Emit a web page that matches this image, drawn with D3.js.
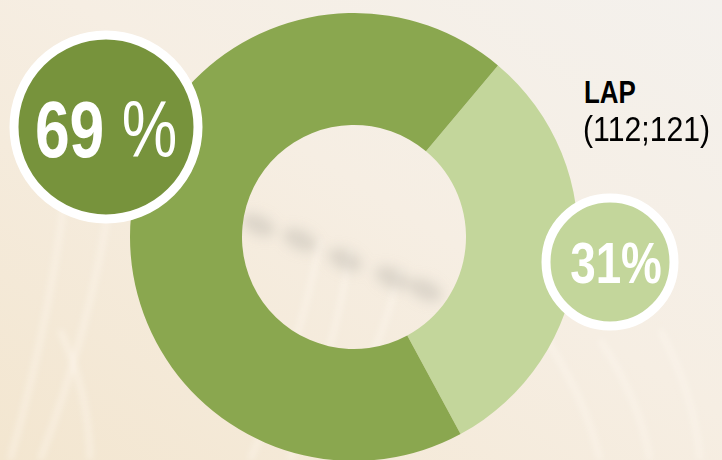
<!DOCTYPE html>
<html>
<head>
<meta charset="utf-8">
<script src="https://cdn.jsdelivr.net/npm/d3@7"></script>
<style>
  html, body { margin: 0; padding: 0; background: #f6efe5; }
  #chart { width: 722px; height: 460px; overflow: hidden; }
  text { font-family: "Liberation Sans", Arial, sans-serif; }
</style>
</head>
<body>
<div id="chart"></div>
<script>
// chart data
const categories = ["LAP", "Other"];
const shares = [31, 69];            // percent
const shareLabels = ["31%", "69 %"];
const labelTitle = "LAP";
const labelSub = "(112;121)";

const width = 722, height = 460;
const cx = 354, cy = 237;
const outerR = 224, innerR = 112;

const colors = d3.scaleOrdinal()
    .domain(categories)
    .range(["#c3d69b", "#8aa74f"]);

const svg = d3.select("#chart")
    .append("svg")
    .attr("width", width)
    .attr("height", height);

// faded photo-like background
const defs = svg.append("defs");
const bg = defs.append("linearGradient")
    .attr("id", "bg")
    .attr("x1", "1").attr("y1", "0")
    .attr("x2", "0").attr("y2", "1");
bg.append("stop").attr("offset", "0%").attr("stop-color", "#f4f1ed");
bg.append("stop").attr("offset", "45%").attr("stop-color", "#f6eee3");
bg.append("stop").attr("offset", "100%").attr("stop-color", "#f3e6d0");
defs.append("filter").attr("id", "blur")
    .append("feGaussianBlur").attr("stdDeviation", 3);
defs.append("filter").attr("id", "blur2")
    .append("feGaussianBlur").attr("stdDeviation", 6);

svg.append("rect")
    .attr("width", width)
    .attr("height", height)
    .attr("fill", "url(#bg)");

// a few soft stalks in the background
const stalks = [[10, 460, 70, 150], [40, 460, 110, 200], [90, 460, 60, 330],
                [250, 460, 320, 240], [290, 460, 350, 250], [330, 440, 400, 270],
                [600, 460, 540, 330], [650, 460, 600, 340], [700, 460, 660, 330]];
svg.append("g")
    .attr("filter", "url(#blur)")
    .selectAll("path")
    .data(stalks)
    .enter()
    .append("path")
    .attr("d", d => `M${d[0]},${d[1]} Q${(d[0] + d[2]) / 2 + 15},${(d[1] + d[3]) / 2} ${d[2]},${d[3]}`)
    .attr("fill", "none")
    .attr("stroke", "#fffaf2")
    .attr("stroke-width", 5)
    .attr("opacity", 0.5);

svg.append("g")
    .attr("filter", "url(#blur2)")
    .selectAll("ellipse")
    .data([[258, 225], [300, 240], [345, 260], [392, 278], [425, 290]])
    .enter()
    .append("ellipse")
    .attr("cx", d => d[0])
    .attr("cy", d => d[1])
    .attr("rx", 18)
    .attr("ry", 10)
    .attr("transform", d => `rotate(25,${d[0]},${d[1]})`)
    .attr("fill", "#cdc6bc")
    .attr("opacity", 0.6);

// donut
const startA = 40 * Math.PI / 180;
const pie = d3.pie()
    .sort(null)
    .startAngle(startA)
    .endAngle(startA + 2 * Math.PI);

const arc = d3.arc()
    .innerRadius(innerR)
    .outerRadius(outerR);

const g = svg.append("g")
    .attr("transform", `translate(${cx},${cy})`);

g.selectAll("path")
    .data(pie(shares))
    .enter()
    .append("path")
    .attr("d", arc)
    .attr("fill", (d, i) => colors(categories[i]));

// label bubbles
const bubbles = [
  { x: 610, y: 262, r: 64, fill: "#c3d69b", size: 58, sx: 0.79, dx: 6 },
  { x: 106, y: 127, r: 92, fill: "#77933c", size: 80, sx: 0.78, dx: 0 }
];

bubbles.forEach((b, i) => {
  svg.append("circle")
      .attr("cx", b.x)
      .attr("cy", b.y)
      .attr("r", b.r)
      .attr("fill", b.fill)
      .attr("stroke", "#ffffff")
      .attr("stroke-width", 9);

  const t = svg.append("text")
      .attr("transform", `translate(${b.x + b.dx},${b.y + b.size * 0.37}) scale(${b.sx},1)`)
      .attr("text-anchor", "middle")
      .attr("fill", "#ffffff")
      .style("font-size", b.size + "px");
  const lab = shareLabels[i];
  const num = lab.replace(/\s?%/, "");
  t.append("tspan").attr("font-weight", "bold").text(num);
  t.append("tspan")
      .attr("font-weight", i === 0 ? "bold" : "normal")
      .text(lab.slice(num.length));
});

// category label
svg.append("text")
    .attr("transform", "translate(584,103) scale(0.81,1)")
    .attr("font-weight", "bold")
    .attr("fill", "#000")
    .style("font-size", "32px")
    .text(labelTitle);

svg.append("text")
    .attr("transform", "translate(583,141) scale(0.84,1)")
    .attr("fill", "#000")
    .style("font-size", "36px")
    .text(labelSub);
</script>
</body>
</html>
